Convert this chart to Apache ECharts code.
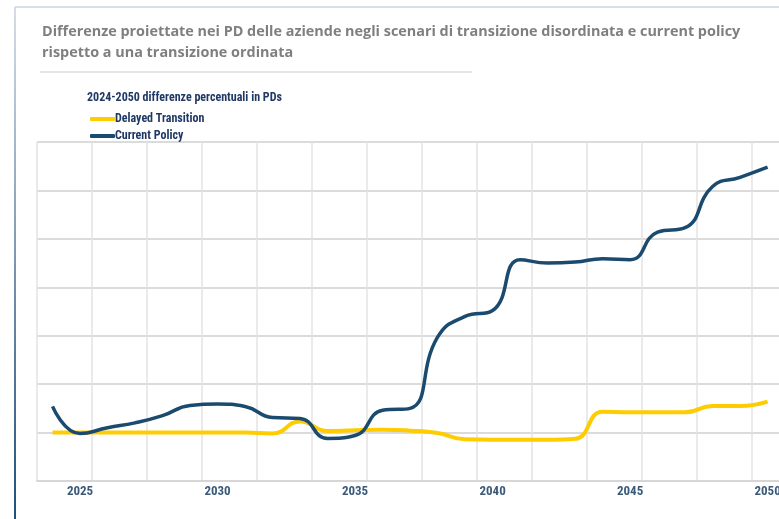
<!DOCTYPE html>
<html>
<head>
<meta charset="utf-8">
<script src="https://cdn.jsdelivr.net/npm/echarts@6/dist/echarts.min.js"></script>
<style>
html,body{margin:0;padding:0;background:#fff;}
#c{width:779px;height:519px;}
</style>
</head>
<body>
<div id="c"></div>
<script>
// ---- data ----
const years = [2024,2025,2026,2027,2028,2029,2030,2031,2032,2033,2034,2035,2036,2037,2038,2039,2040,2041,2042,2043,2044,2045,2046,2047,2048,2049,2050];
const delayedTransition = [0,0,0,0,0,0,0,0,-0.02,0.23,0.03,0.05,0.06,0.04,-0.01,-0.14,-0.15,-0.15,-0.15,-0.13,0.43,0.42,0.42,0.42,0.55,0.55,0.64];
const currentPolicy = [0.54,-0.02,0.10,0.20,0.35,0.56,0.59,0.54,0.31,0.29,-0.12,-0.06,0.46,0.50,1.97,2.40,2.52,3.57,3.50,3.52,3.59,3.57,4.14,4.23,5.08,5.27,5.48];
const xTickLabels = [2025,2030,2035,2040,2045,2050];
const seriesNames = ['Delayed Transition','Current Policy'];
const titleText = 'Differenze proiettate nei PD delle aziende negli scenari di transizione disordinata e current policy\nrispetto a una transizione ordinata';
const legendHeader = '2024-2050 differenze percentuali in PDs';

const narrow = '"Liberation Sans Narrow","Roboto Condensed","Open Sans Condensed","Noto Sans",sans-serif';
const chart = echarts.init(document.getElementById('c'), null, {renderer:'canvas'});
const xMin = 2023.436, xMax = 2050.96;
const pair = arr => years.map((y,i)=>[y,arr[i]]);

chart.setOption({
  animation:false,
  backgroundColor:'#ffffff',
  title:{
    text:titleText,
    left:37, top:16,
    textStyle:{fontFamily:'"Open Sans",sans-serif',fontSize:14.4,fontWeight:'bold',color:'#7f7f7f',lineHeight:21}
  },
  legend:{
    orient:'vertical', left:85, top:108, itemGap:5,
    itemWidth:25, itemHeight:4, icon:'roundRect',
    textStyle:{fontFamily:narrow,fontSize:12,fontWeight:'bold',color:'#1f3864',padding:[0,0,0,-5]},
    data:seriesNames
  },
  graphic:[
    {type:'line',shape:{x1:15,y1:7,x2:779,y2:7},style:{stroke:'#c9d5e1',lineWidth:1.5},silent:true},
    {type:'line',shape:{x1:15,y1:7,x2:15,y2:519},style:{lineWidth:2,stroke:new echarts.graphic.LinearGradient(0,0,0,1,[{offset:0,color:'#d5dee8'},{offset:1,color:'#1f4e79'}])},silent:true},
    {type:'line',shape:{x1:40,y1:72,x2:472,y2:72},style:{stroke:'#e6e6e6',lineWidth:2},silent:true},
    {type:'text',left:87,top:92,style:{text:legendHeader,font:'bold 12px '+narrow,fill:'#1f3864'},silent:true}
  ],
  grid:{left:37,width:757,top:142,height:339,outerBoundsMode:'none'},
  xAxis:[
    {type:'value',min:xMin,max:xMax,interval:2,
     axisLine:{show:false},axisTick:{show:false},axisLabel:{show:false},
     splitLine:{show:true,lineStyle:{color:'#e3e3e3',width:1.5}}},
    {type:'value',min:xMin,max:xMax,position:'bottom',
     axisLine:{show:true,lineStyle:{color:'#d6d6d6',width:2}},
     axisTick:{show:false},
     splitLine:{show:false},
     axisLabel:{show:true,customValues:xTickLabels,margin:4,
       fontFamily:narrow,fontSize:13,fontWeight:'bold',color:'#3b5a7a',
       formatter:v=>String(Math.round(v))}}
  ],
  yAxis:{type:'value',min:-1,max:6,interval:1,
    axisLine:{show:false},axisTick:{show:false},axisLabel:{show:false},
    splitLine:{show:true,lineStyle:{color:'#cfcfcf',width:1.5}}},
  series:[
    {name:seriesNames[0],type:'line',xAxisIndex:0,data:pair(delayedTransition),smooth:0.5,showSymbol:false,
     lineStyle:{color:'#ffcc00',width:4},itemStyle:{color:'#ffcc00'},z:3},
    {name:seriesNames[1],type:'line',xAxisIndex:0,data:pair(currentPolicy),smooth:0.5,showSymbol:false,
     lineStyle:{color:'#1b4a6f',width:3.5},itemStyle:{color:'#1b4a6f'},z:4}
  ]
});
</script>
</body>
</html>
